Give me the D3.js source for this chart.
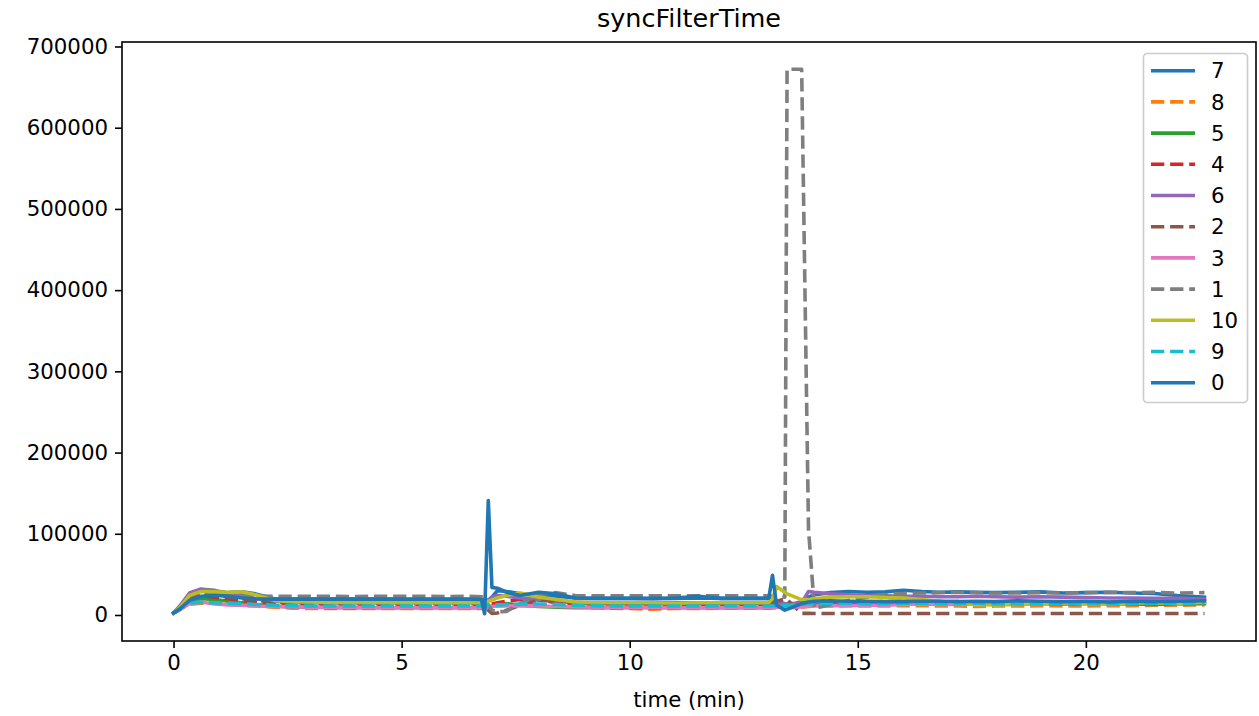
<!DOCTYPE html>
<html><head><meta charset="utf-8">
<script src="https://cdn.jsdelivr.net/npm/d3@7"></script>
<style>body{margin:0;background:#fff}svg{display:block;font-family:"DejaVu Sans",sans-serif}</style>
</head><body><div id="chart"></div>
<script>
const chartTitle = "syncFilterTime";
const xLabel = "time (min)";
const seriesNames = ["7","8","5","4","6","2","3","1","10","9","0"];
const seriesColors = ["#1f77b4","#ff7f0e","#2ca02c","#d62728","#9467bd","#8c564b","#e377c2","#7f7f7f","#bcbd22","#17becf","#1f77b4"];
const seriesDashed = [false,true,false,true,false,true,false,true,false,true,false];
const xTicks = [0,5,10,15,20];
const yTicks = [0,100000,200000,300000,400000,500000,600000,700000];

const times = [0,0.15,0.35,0.6,0.9,1.2,1.5,1.8,2.2,2.6,
 3,3.5,4,4.5,5,5.5,6,6.5,6.75,6.82,
 6.9,6.98,7.1,7.3,7.6,8,8.4,8.8,9.2,9.6,
 10,10.5,11,11.5,12,12.5,12.9,13.05,13.13,13.22,
 13.4,13.45,13.77,13.92,14.05,14.4,14.8,15.2,15.6,16,
 16.4,16.8,17.2,17.6,18,18.5,19,19.5,20,20.5,
 21,21.5,22,22.6];

const s7 = [2500,7000,16000,21000,24000,27500,28500,26000,20000,19500,
 19500,19500,19500,19500,19000,19000,19000,19000,19000,19000,
 18000,22000,30000,29000,26000,24000,23000,21000,20500,20500,
 20500,20000,20500,21000,20500,20500,20500,20000,19000,17000,
 14000,13000,15000,22000,25000,27500,29000,28000,28500,30500,
 29000,28000,28500,28000,27500,28000,28500,27000,27500,28000,
 27000,26500,24000,22000];
const s8 = [2500,8000,13000,14500,14500,13000,12000,11000,9500,8500,
 8000,8000,8000,8000,8000,8000,8000,8000,8000,8500,
 9000,10000,11000,12000,13000,12500,11000,10000,9000,8500,
 8000,7000,8000,8000,8500,8500,8500,8500,8500,9000,
 9000,9000,9500,10500,11000,11000,11500,11000,11000,11500,
 11500,11000,11000,10500,11000,11000,11500,11000,11000,11500,
 11500,12000,12000,12500];
const s5 = [2500,8000,18000,20000,19000,17000,15000,13000,11000,10000,
 9500,9000,9000,9000,9000,9000,9000,9000,9000,9500,
 10000,11000,13000,14000,12000,10500,9500,9000,9000,9000,
 9000,9000,9000,9000,9000,9000,9000,9000,9500,10000,
 10500,10500,11000,12000,12500,13000,13500,14000,14500,15000,
 15000,14500,14000,14000,14500,14000,14000,13500,14000,14000,
 13500,13000,13500,14000];
const s4 = [2500,9000,20000,24000,22000,20000,18000,16000,14000,13000,
 12500,12000,12000,12000,12000,12000,12000,12000,12000,12000,
 12500,13500,15000,17000,19000,18500,15000,13000,12000,12000,
 12000,12000,12000,12000,12000,12000,12000,12000,12000,12500,
 13000,13000,16000,24000,20000,16000,15500,16000,16500,17000,
 16500,16000,16500,16000,15500,16000,15500,15000,15500,15000,
 15000,15500,15000,15500];
const s6 = [2500,12000,27000,32000,30000,27000,24000,20000,17000,16000,
 15500,15000,15000,15000,15000,15000,15000,15000,15000,15000,
 18000,22000,24000,23000,21000,19000,17500,16000,15000,15000,
 15000,15000,15000,15000,15000,15000,15000,15000,14500,14000,
 13500,13500,15000,29000,28000,26000,25000,24000,23500,23000,
 23000,22500,22500,23000,22500,22000,22500,22000,21500,21000,
 21000,20500,20500,19500];
const s2 = [2500,9000,22000,27000,25000,22000,20000,18000,16000,15000,
 14500,14000,14000,14000,14000,14000,14000,14000,14000,13000,
 6000,2000,2500,6000,12000,18000,17000,15000,14500,14000,
 14000,14000,14000,14000,14000,14000,14000,14000,15000,17000,
 19500,19000,2000,2000,1800,1800,1800,1800,1800,1800,
 1800,1800,1800,1800,1800,1800,1800,1800,1800,1800,
 1800,1800,1800,1800];
const s3 = [2500,7000,14000,16000,13500,12500,12000,11000,10500,10000,
 9500,9500,9500,9000,9000,9000,9000,9000,9000,9500,
 10000,10500,11000,11000,11500,11000,10500,10000,9500,9500,
 9500,9500,9000,9000,9000,9000,9000,9500,9500,9500,
 9500,9500,10000,11000,11000,11500,11500,12000,12000,13000,
 13500,13000,13000,13500,14000,14000,14500,15000,15500,16000,
 16500,17000,17000,17500];
const s1 = [2500,9000,24000,31000,30000,27000,25000,23500,23000,23000,
 23000,23000,22800,23000,23000,23000,22800,23000,22500,21000,
 12000,6000,4000,4500,14000,25000,27500,24000,23500,23500,
 23500,23500,23500,23500,23500,23500,23500,23500,23000,22500,
 22000,672000,672000,105000,8000,13000,18000,22000,25000,26500,
 27000,27500,28000,27500,27000,27000,27500,27000,27500,28000,
 27500,28000,27000,27500];
const s10 = [2500,10000,24000,29000,28500,28000,28500,25000,18000,16500,
 16000,15500,15500,15500,15000,15000,15000,15000,15000,15500,
 17000,18500,21000,24000,27000,22000,19000,16000,15000,15000,
 15000,15000,14500,15000,15000,15000,15000,15500,20000,35000,
 28000,26000,19000,19000,20000,22000,22500,22500,21500,21000,
 19000,17000,14500,13000,12500,13000,14000,15000,14000,13500,
 14500,15000,14000,15500];
const s9 = [2500,8000,15000,15500,15000,14500,14000,13000,12000,11500,
 11000,11000,11000,11000,11000,11000,11000,11000,11000,11000,
 11500,12000,12500,13000,13500,13500,13000,12000,11500,11000,
 11000,11000,11000,11000,11000,11000,11000,11000,11000,11500,
 12000,12000,13000,14000,14000,14500,14500,14000,14000,14500,
 14500,14000,14000,14500,13500,13500,14000,14000,14500,14000,
 14000,14500,14500,15000];
const s0 = [2500,8000,18000,23000,24000,23000,21000,20000,19500,19500,
 19500,19500,19500,19500,19500,19500,19500,19500,19000,1500,
 141000,34000,33000,28000,24000,28000,26000,21000,20500,20500,
 20500,20500,21000,23000,20500,20500,20500,21000,49000,12000,
 6000,7000,14000,16000,17000,17500,17000,17000,16500,16500,
 17000,17000,16500,17000,16500,17500,17000,16500,17000,16000,
 17000,16500,17000,17500];
const seriesValues = [s7,s8,s5,s4,s6,s2,s3,s1,s10,s9,s0];

const W = 1259, H = 716;
const m = {left:122, right:1256, top:42, bottom:641};
const FS = 21.3, LW = 3.6, DASH = "13.3,5.8";
const svg = d3.select("#chart").append("svg").attr("width",W).attr("height",H);

const allV = seriesValues.flat();
const vmin = d3.min(allV), vmax = d3.max(allV);
const tmin = d3.min(times), tmax = d3.max(times);
const px = (tmax-tmin)*0.05, py = (vmax-vmin)*0.05;
const x = d3.scaleLinear().domain([tmin-px, tmax+px]).range([m.left, m.right]);
const y = d3.scaleLinear().domain([vmin-py, vmax+py]).range([m.bottom, m.top]);

svg.append("defs").append("clipPath").attr("id","clip").append("rect")
  .attr("x",m.left).attr("y",m.top).attr("width",m.right-m.left).attr("height",m.bottom-m.top);

const line = d3.line().x((d,i)=>x(times[i])).y(d=>y(d));
const g = svg.append("g").attr("clip-path","url(#clip)");
seriesValues.forEach((vals,i)=>{
  g.append("path").attr("d",line(vals)).attr("fill","none")
   .attr("stroke",seriesColors[i]).attr("stroke-width",LW)
   .attr("stroke-linejoin","round")
   .attr("stroke-linecap",seriesDashed[i]?"butt":"square")
   .attr("stroke-dasharray",seriesDashed[i]?DASH:null);
});

// axes
const xAxis = d3.axisBottom(x).tickValues(xTicks).tickSize(7).tickPadding(7).tickFormat(d3.format("d"));
const yAxis = d3.axisLeft(y).tickValues(yTicks).tickSize(7).tickPadding(7).tickFormat(d3.format("d"));
const gx = svg.append("g").attr("transform",`translate(0,${m.bottom})`).call(xAxis);
const gy = svg.append("g").attr("transform",`translate(${m.left},0)`).call(yAxis);
[gx,gy].forEach(a=>{
  a.select(".domain").remove();
  a.selectAll(".tick line").attr("stroke","#000").attr("stroke-width",1.6);
  a.selectAll(".tick text").attr("fill","#000").attr("font-size",FS).attr("font-family","DejaVu Sans");
});
svg.append("rect").attr("x",m.left).attr("y",m.top).attr("width",m.right-m.left).attr("height",m.bottom-m.top)
  .attr("fill","none").attr("stroke","#000").attr("stroke-width",1.6);

svg.append("text").attr("x",(m.left+m.right)/2).attr("y",27).attr("text-anchor","middle")
  .attr("font-size",25.5).text(chartTitle);
svg.append("text").attr("x",(m.left+m.right)/2).attr("y",707).attr("text-anchor","middle")
  .attr("font-size",FS).text(xLabel);

// legend
const lg = svg.append("g");
lg.append("rect").attr("x",1143.5).attr("y",53.5).attr("width",104).attr("height",349).attr("rx",4)
  .attr("fill","#fff").attr("fill-opacity",0.8).attr("stroke","#cccccc").attr("stroke-width",1.6);
seriesNames.forEach((nm,i)=>{
  const yy = 70.7 + i*31.2;
  lg.append("line").attr("x1",1151).attr("x2",1195).attr("y1",yy).attr("y2",yy)
    .attr("stroke",seriesColors[i]).attr("stroke-width",LW)
    .attr("stroke-dasharray",seriesDashed[i]?DASH:null);
  lg.append("text").attr("x",1211).attr("y",yy).attr("dy","0.36em").attr("font-size",FS).text(nm);
});
</script></body></html>
